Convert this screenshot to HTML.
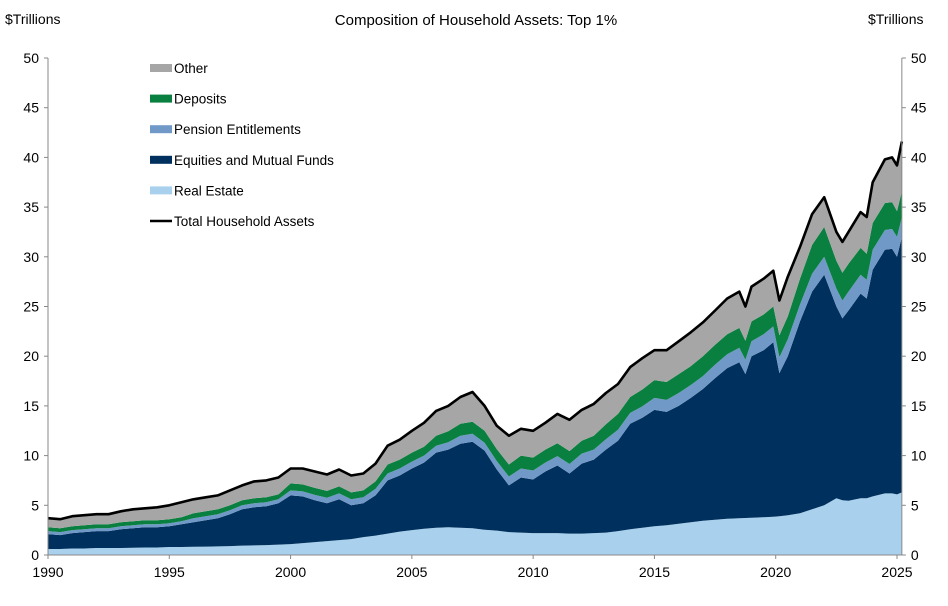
<!DOCTYPE html>
<html><head><meta charset="utf-8"><style>
body{margin:0;background:#fff;font-family:"Liberation Sans",Arial,sans-serif;}
svg text{font-family:"Liberation Sans",Arial,sans-serif;fill:#000;}
</style></head><body>
<svg id="chart" width="948" height="601" viewBox="0 0 948 601" xmlns="http://www.w3.org/2000/svg">
<text x="476" y="25" font-size="15" text-anchor="middle">Composition of Household Assets: Top 1%</text>
<text x="5" y="24" font-size="14">$Trillions</text>
<text x="868" y="24" font-size="14">$Trillions</text>
<g id="plot"></g>
<g id="axes"></g>
<g id="legend"></g>
</svg>
<script>
const dates=[1990,1990.5,1991,1991.5,1992,1992.5,1993,1993.5,1994,1994.5,1995,1995.5,1996,1996.5,1997,1997.5,1998,1998.5,1999,1999.5,2000,2000.5,2001,2001.5,2002,2002.5,2003,2003.5,2004,2004.5,2005,2005.5,2006,2006.5,2007,2007.5,2008,2008.5,2009,2009.5,2010,2010.5,2011,2011.5,2012,2012.5,2013,2013.5,2014,2014.5,2015,2015.5,2016,2016.5,2017,2017.5,2018,2018.5,2018.75,2019,2019.5,2019.9,2020.15,2020.5,2021,2021.5,2022,2022.5,2022.75,2023,2023.5,2023.75,2024,2024.5,2024.8,2025,2025.2];
const realEstate=[.6,.6,.65,.65,.7,.7,.7,.72,.75,.75,.8,.8,.82,.85,.87,.9,.95,.97,1.0,1.05,1.1,1.2,1.3,1.4,1.5,1.6,1.8,1.95,2.15,2.35,2.5,2.65,2.75,2.8,2.75,2.7,2.55,2.45,2.3,2.25,2.2,2.2,2.2,2.15,2.15,2.2,2.25,2.4,2.6,2.75,2.9,3.0,3.15,3.3,3.45,3.55,3.65,3.7,3.72,3.75,3.8,3.85,3.9,4.0,4.2,4.6,5.0,5.7,5.5,5.45,5.7,5.7,5.9,6.2,6.2,6.1,6.3];
const equities=[1.5,1.4,1.55,1.65,1.7,1.7,1.9,1.98,2.05,2.05,2.1,2.3,2.48,2.65,2.83,3.2,3.65,3.83,3.9,4.15,4.9,4.7,4.2,3.8,4.1,3.4,3.4,4.05,5.35,5.65,6.2,6.65,7.55,7.8,8.45,8.7,7.95,6.15,4.7,5.55,5.4,6.2,6.8,6.05,7.05,7.4,8.35,9.1,10.6,11.05,11.7,11.4,11.85,12.5,13.25,14.25,15.15,15.7,14.48,16.25,16.8,17.55,14.4,16.0,19.3,21.9,23.2,19.3,18.3,19.15,20.6,20.1,22.8,24.5,24.6,23.9,25.7];
const pensions=[.3,.3,.3,.3,.3,.3,.3,.3,.3,.3,.3,.3,.4,.4,.4,.4,.4,.4,.4,.4,.5,.5,.55,.55,.6,.6,.6,.65,.7,.7,.7,.7,.7,.75,.8,.8,.8,.85,.9,.9,.9,.9,.95,.95,1.0,1.0,1.05,1.1,1.1,1.15,1.2,1.2,1.3,1.3,1.3,1.35,1.4,1.45,1.45,1.5,1.6,1.6,1.6,1.7,1.7,1.8,1.8,1.8,1.8,1.9,1.9,1.9,2.0,2.0,2.0,2.0,2.0];
const deposits=[.4,.4,.4,.4,.4,.4,.4,.4,.4,.4,.4,.4,.5,.5,.5,.5,.5,.5,.5,.5,.7,.7,.7,.7,.7,.7,.7,.75,.9,.9,.9,.9,1.0,1.1,1.2,1.2,1.2,1.2,1.2,1.3,1.3,1.3,1.3,1.3,1.3,1.4,1.5,1.6,1.6,1.7,1.8,1.8,1.9,1.9,2.0,2.0,2.0,2.0,1.9,2.0,2.0,2.0,2.2,2.3,2.6,2.9,3.0,2.8,2.8,2.8,2.7,2.6,2.7,2.7,2.7,2.6,2.6];
const other=[.9,.9,1.0,1.0,1.0,1.0,1.1,1.2,1.2,1.3,1.4,1.5,1.4,1.4,1.4,1.5,1.5,1.7,1.7,1.7,1.5,1.6,1.65,1.65,1.7,1.7,1.7,1.8,1.9,2.0,2.2,2.4,2.5,2.55,2.7,3.0,2.5,2.35,2.9,2.7,2.7,2.7,2.95,3.15,3.1,3.2,3.15,3.0,3.0,3.15,3.0,3.2,3.3,3.4,3.4,3.45,3.6,3.65,3.45,3.5,3.6,3.6,3.5,4.0,3.2,3.1,3.0,2.9,3.1,3.2,3.6,3.7,4.1,4.4,4.5,4.6,5.0];
const yTicks=[0,5,10,15,20,25,30,35,40,45,50];
const xTicks=[1990,1995,2000,2005,2010,2015,2020,2025];
const seriesNames=["Real Estate","Equities and Mutual Funds","Pension Entitlements","Deposits","Other"];
const seriesColors=["#a9d1ee","#00305d","#7199c8","#0a8040","#a6a6a6"];

const NS="http://www.w3.org/2000/svg";
const X0=48,X1=897,Y0=555,Y1=58;
const xs=d=>X0+(d-1990)/(2025-1990)*(X1-X0);
const ys=v=>Y0-v/50*(Y0-Y1);
function mk(tag,attrs,parent){const e=document.createElementNS(NS,tag);for(const k in attrs)e.setAttribute(k,attrs[k]);parent.appendChild(e);return e;}
const plot=document.getElementById('plot'),axes=document.getElementById('axes'),legend=document.getElementById('legend');
const series=[realEstate,equities,pensions,deposits,other];
let base=dates.map(()=>0);
const slugs=["real-estate-area","equities-area","pension-area","deposits-area","other-area"];
series.forEach((s,i)=>{
  const top=base.map((b,j)=>b+s[j]);
  let d="M"+dates.map((t,j)=>xs(t).toFixed(1)+","+ys(top[j]).toFixed(1)).join("L");
  for(let j=dates.length-1;j>=0;j--)d+="L"+xs(dates[j]).toFixed(1)+","+ys(base[j]).toFixed(1);
  const p=mk('path',{d:d+"Z",fill:seriesColors[i]},plot);
  
  
  base=top;
});
const tl=mk('path',{d:"M"+dates.map((t,j)=>xs(t).toFixed(1)+","+ys(base[j]).toFixed(1)).join("L"),fill:"none",stroke:"#000","stroke-width":2.6,"stroke-linejoin":"round"},plot);


const xr=xs(2025.2);
const la=mk('line',{x1:X0,y1:Y1,x2:X0,y2:Y0,stroke:"#888"},axes);


const ra=mk('line',{x1:xr,y1:Y1,x2:xr,y2:Y0,stroke:"#888"},axes);


const xa=mk('line',{x1:X0,y1:Y0,x2:xr,y2:Y0,stroke:"#888"},axes);


yTicks.forEach(v=>{
  const y=ys(v);
  mk('line',{x1:X0-4,y1:y,x2:X0,y2:y,stroke:"#888"},axes);
  mk('line',{x1:xr,y1:y,x2:xr+4,y2:y,stroke:"#888"},axes);
  const t=mk('text',{x:X0-9,y:y+5,"font-size":14,"text-anchor":"end"},axes);t.textContent=v;
  
  
  const t2=mk('text',{x:xr+9,y:y+5,"font-size":14},axes);t2.textContent=v;
  
  
});
xTicks.forEach(v=>{
  const x=xs(v);
  mk('line',{x1:x,y1:Y0,x2:x,y2:Y0+4,stroke:"#888"},axes);
  const t=mk('text',{x:x,y:577,"font-size":14,"text-anchor":"middle"},axes);t.textContent=v;
  
  
});
const legItems=[["Other","#a6a6a6"],["Deposits","#0a8040"],["Pension Entitlements","#7199c8"],["Equities and Mutual Funds","#00305d"],["Real Estate","#a9d1ee"]];
legItems.forEach((it,i)=>{
  const y=68+i*30.6;
  const g=mk('g',{},legend);
  
  
  mk('rect',{x:150,y:y-4,width:22,height:8,fill:it[1]},g);
  const t=mk('text',{x:174,y:y+5,"font-size":13.5},g);t.textContent=it[0];
});
const g=mk('g',{},legend);


mk('line',{x1:150,y1:221,x2:172,y2:221,stroke:"#000","stroke-width":2.6},g);
const tt=mk('text',{x:174,y:226,"font-size":13.5},g);tt.textContent="Total Household Assets";
</script>
</body></html>
